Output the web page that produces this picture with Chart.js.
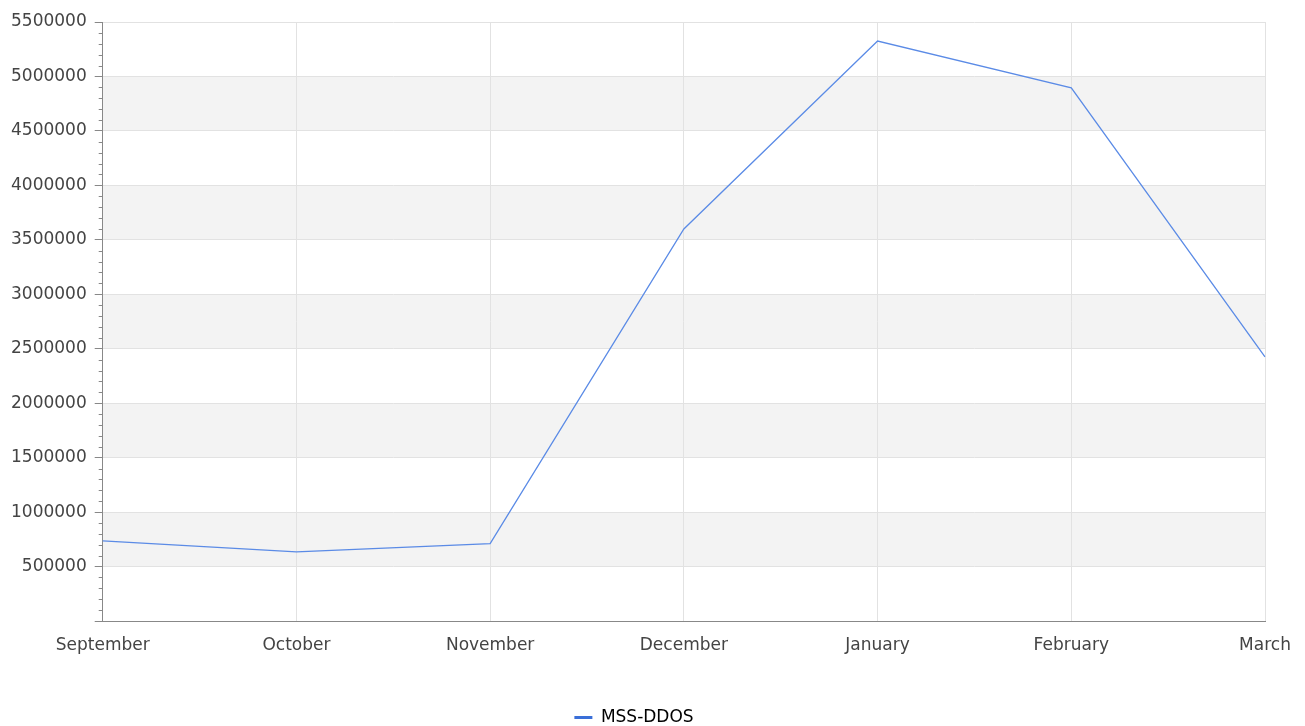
<!DOCTYPE html>
<html>
<head>
<meta charset="utf-8">
<script src="https://cdn.jsdelivr.net/npm/chart.js@4/dist/chart.umd.min.js"></script>
<style>
  body { margin: 0; background: #fff; }
  #wrap { width: 1305px; height: 726px; }
</style>
</head>
<body>
<div id="wrap"><canvas id="myChart"></canvas></div>
<script>
var months = ["September", "October", "November", "December", "January", "February", "March"];
var ddosValues = [735000, 635000, 710000, 3600000, 5325000, 4895000, 2425000];
var seriesName = "MSS-DDOS";

// every 500000 there is a labelled tick, every 100000 a small one
var majorStep = 500000;
var minorStep = 100000;
var yMax = 5500000;

var bandsPlugin = {
    id: 'bands',
    beforeDraw: function (chart) {
        var ctx = chart.ctx;
        var area = chart.chartArea;
        var y = chart.scales.y;
        ctx.save();
        ctx.fillStyle = '#f3f3f3';
        for (var v = majorStep; v < yMax; v += majorStep * 2) {
            var top = y.getPixelForValue(v + majorStep);
            var bottom = y.getPixelForValue(v);
            ctx.fillRect(area.left, top, area.right - area.left, bottom - top);
        }
        ctx.restore();
    }
};

var minorTicksPlugin = {
    id: 'minorTicks',
    afterDraw: function (chart) {
        var ctx = chart.ctx;
        var y = chart.scales.y;
        var x0 = chart.chartArea.left;
        ctx.save();
        ctx.strokeStyle = '#888888';
        ctx.lineWidth = 1;
        ctx.beginPath();
        for (var v = minorStep; v < yMax; v += minorStep) {
            if (v % majorStep === 0) continue;
            var py = Math.round(y.getPixelForValue(v)) + 0.5;
            ctx.moveTo(x0 - 4, py);
            ctx.lineTo(x0, py);
        }
        ctx.stroke();
        ctx.restore();
    }
};

function createChart() {
    var ctx = document.getElementById("myChart").getContext("2d");
    var myChart = new Chart(ctx, {
        type: 'line',
        data: {
            labels: months,
            datasets: [{
                label: seriesName,
                data: ddosValues,
                borderColor: '#5b8be6',
                backgroundColor: '#3a6fd8',
                borderWidth: 1.3,
                pointRadius: 0,
                tension: 0,
                fill: false
            }]
        },
        options: {
            responsive: true,
            maintainAspectRatio: false,
            animation: false,
            layout: {
                padding: { left: 3, right: 40, top: 22, bottom: -10 }
            },
            plugins: {
                tooltip: { enabled: false },
                legend: {
                    position: 'bottom',
                    labels: {
                        color: '#222',
                        font: { family: 'DejaVu Sans', size: 17 },
                        boxWidth: 18,
                        boxHeight: 3,
                        padding: 2,
                        generateLabels: function (chart) {
                            return [{
                                text: seriesName,
                                fillStyle: '#3a6fd8',
                                strokeStyle: '#3a6fd8',
                                lineWidth: 0,
                                datasetIndex: 0
                            }];
                        }
                    }
                }
            },
            scales: {
                x: {
                    grid: { color: '#e2e2e2', drawTicks: false },
                    border: { color: '#888888' },
                    ticks: {
                        color: '#444',
                        font: { family: 'DejaVu Sans', size: 17 },
                        padding: 14,
                        maxRotation: 0,
                        autoSkip: false
                    },
                    afterFit: function (scale) {
                        // leave room between the month labels and the legend
                        scale.height = 86;
                    }
                },
                y: {
                    min: 0,
                    max: yMax,
                    grid: { color: '#e2e2e2', tickColor: '#888888', tickLength: 8 },
                    border: { color: '#888888' },
                    ticks: {
                        stepSize: majorStep,
                        color: '#444',
                        font: { family: 'DejaVu Sans', size: 17 },
                        padding: 8,
                        callback: function (value) {
                            return value === 0 ? '' : value;
                        }
                    }
                }
            }
        },
        plugins: [bandsPlugin, minorTicksPlugin]
    });
}
createChart();
</script>
</body>
</html>
